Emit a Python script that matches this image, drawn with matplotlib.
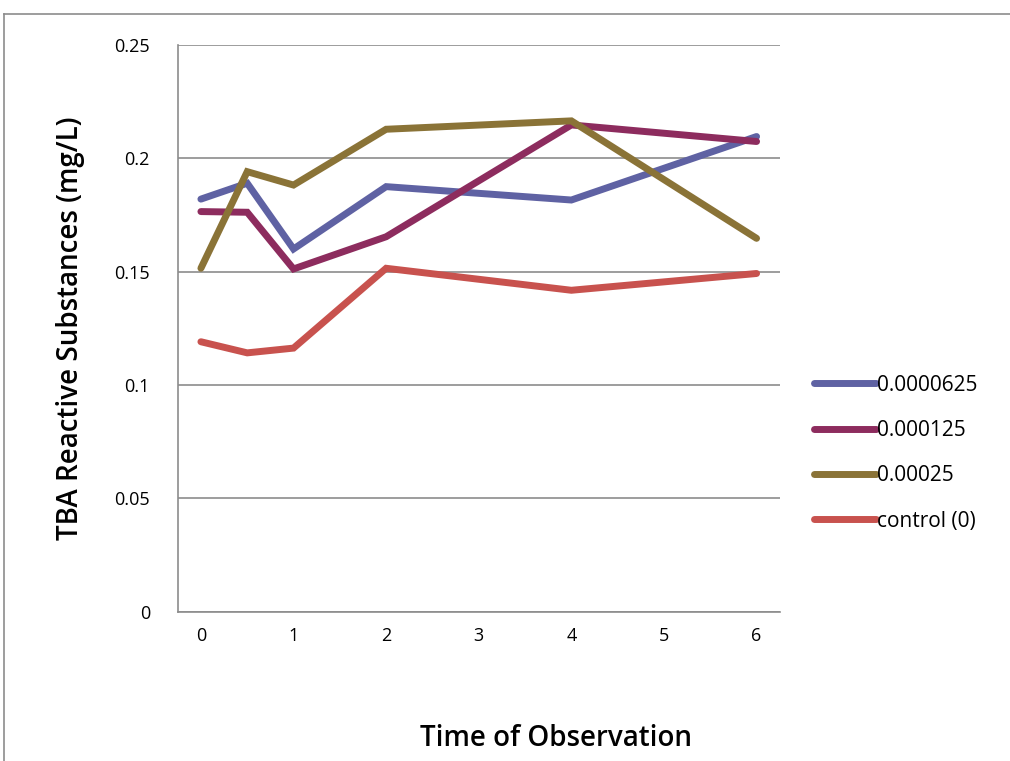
import matplotlib
matplotlib.use("Agg")
import matplotlib.pyplot as plt
from matplotlib.lines import Line2D

# time points and series
time = [0, 0.5, 1, 2, 4, 6]
s_0000625 = [0.182, 0.189, 0.160, 0.1875, 0.1816, 0.2096]
s_000125 = [0.1765, 0.1762, 0.1512, 0.1654, 0.2147, 0.2074]
s_00025 = [0.1515, 0.1941, 0.1882, 0.2128, 0.2165, 0.1647]
s_control = [0.1191, 0.1142, 0.1163, 0.1515, 0.1418, 0.1492]

labels = ["0.0000625", "0.000125", "0.00025", "control (0)"]
colors = ["#5F62A3", "#8D2C5E", "#8A7337", "#C8524E"]
yticks = [0, 0.05, 0.1, 0.15, 0.2, 0.25]
ytick_labels = ["0", "0.05", "0.1", "0.15", "0.2", "0.25"]
xticks = [0, 1, 2, 3, 4, 5, 6]

plt.rcParams["font.family"] = ["Open Sans", "DejaVu Sans"]

fig = plt.figure(figsize=(10.1, 7.61), dpi=100)
ax = fig.add_axes([0.176, 0.196, 0.596, 0.745])

for ys, lab, c in zip([s_0000625, s_000125, s_00025, s_control], labels, colors):
    ax.plot(time, ys, color=c, lw=5, label=lab, solid_capstyle="round",
            solid_joinstyle="miter")

ax.set_xlim(-0.25, 6.25)
ax.set_ylim(0, 0.25)
ax.set_yticks(yticks)
ax.set_yticklabels(ytick_labels)
ax.set_xticks(xticks)
ax.grid(axis="y", color="#8c8c8c", lw=1.2)
ax.set_axisbelow(True)
for s in ["top", "right"]:
    ax.spines[s].set_visible(False)
for s in ["left", "bottom"]:
    ax.spines[s].set_color("#8c8c8c")
    ax.spines[s].set_linewidth(1.2)
ax.tick_params(length=0, labelsize=13, colors="black")
ax.tick_params(axis="y", pad=20)
ax.tick_params(axis="x", pad=11)

ax.set_ylabel("TBA Reactive Substances (mg/L)", fontsize=20, fontweight="semibold",
              labelpad=21)
fig.text(0.55, 0.03, "Time of Observation", fontsize=20, fontweight="semibold",
         ha="center", va="center")

ax.legend(loc="center left", bbox_to_anchor=(1.025, 0.28), frameon=False,
          fontsize=15, handlelength=3.0, labelspacing=1.17, handletextpad=0.05)

# outer chart border
fig.add_artist(Line2D([4 / 1010, 1], [1 - 14 / 761, 1 - 14 / 761],
                      transform=fig.transFigure, color="#8c8c8c", lw=1.2))
fig.add_artist(Line2D([4 / 1010, 4 / 1010], [0, 1 - 14 / 761],
                      transform=fig.transFigure, color="#8c8c8c", lw=1.2))

fig.savefig("out.png", dpi=100)
